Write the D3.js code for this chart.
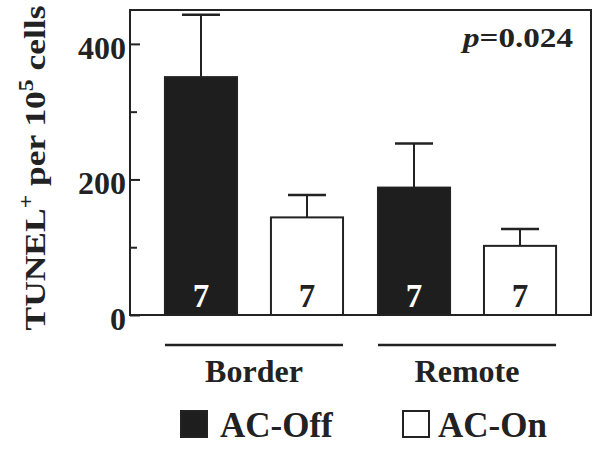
<!DOCTYPE html>
<html>
<head>
<meta charset="utf-8">
<script src="https://cdn.jsdelivr.net/npm/d3@7"></script>
<style>
body { margin: 0; background: #fff; }
svg text { font-family: "Liberation Serif", "DejaVu Serif", serif; font-weight: bold; fill: #222; }
</style>
</head>
<body>
<script>
var regions = ["Border", "Remote"];
var groups = ["AC-Off", "AC-On"];
var meanOff = [351, 188];
var meanOn = [144, 102];
var semOff = [92, 65];
var semOn = [33, 25];
var nOff = [7, 7];
var nOn = [7, 7];
var yTicks = [0, 100, 200, 300, 400];
var yLabels = [0, 200, 400];
var pText = "0.024";

var rows = [];
for (var i = 0; i < regions.length; i++) {
	rows.push({region: regions[i], group: "AC-Off", mean: meanOff[i], sem: semOff[i], n: nOff[i]});
	rows.push({region: regions[i], group: "AC-On", mean: meanOn[i], sem: semOn[i], n: nOn[i]});
}

var width = 600,
	height = 454;
var plotLeft = 130, plotRight = 591, plotTop = 10, plotBottom = 315;
var ink = "#222";
var serif = "'Liberation Serif', 'DejaVu Serif', serif";

var svg = d3.select("body").append("svg")
	.attr("width", width)
	.attr("height", height)
	.attr("font-family", serif);

var y = d3.scaleLinear()
	.domain([0, 450])
	.range([plotBottom, plotTop]);

var x0 = d3.scaleBand()
	.domain(regions)
	.range([plotLeft, plotRight])
	.paddingInner(0.164)
	.paddingOuter(0.164);

var x1 = d3.scaleBand()
	.domain(groups)
	.range([0, x0.bandwidth()])
	.paddingInner(0.32);

var fill = d3.scaleOrdinal()
	.domain(groups)
	.range(["#1e1e1e", "#ffffff"]);

// bars
svg.selectAll("rect.bar")
	.data(rows)
	.enter().append("rect")
		.classed("bar", true)
		.attr("x", function(d) { return x0(d.region) + x1(d.group); })
		.attr("y", function(d) { return y(d.mean); })
		.attr("width", x1.bandwidth())
		.attr("height", function(d) { return y(0) - y(d.mean); })
		.attr("fill", function(d) { return fill(d.group); })
		.attr("stroke", ink)
		.attr("stroke-width", 2);

// error bars (upper only)
var err = svg.selectAll("g.err")
	.data(rows)
	.enter().append("g")
		.classed("err", true)
		.attr("transform", function(d) { return "translate(" + (x0(d.region) + x1(d.group) + x1.bandwidth() / 2) + ",0)"; });

err.append("line")
	.attr("x1", 0).attr("x2", 0)
	.attr("y1", function(d) { return y(d.mean); })
	.attr("y2", function(d) { return y(d.mean + d.sem); })
	.attr("stroke", ink)
	.attr("stroke-width", 2);

err.append("line")
	.attr("x1", -19).attr("x2", 19)
	.attr("y1", function(d) { return y(d.mean + d.sem); })
	.attr("y2", function(d) { return y(d.mean + d.sem); })
	.attr("stroke", ink)
	.attr("stroke-width", 2.5);

// n inside bars
svg.selectAll("text.n")
	.data(rows)
	.enter().append("text")
		.classed("n", true)
		.attr("x", function(d) { return x0(d.region) + x1(d.group) + x1.bandwidth() / 2; })
		.attr("y", plotBottom - 8)
		.attr("text-anchor", "middle")
		.style("font-size", "33px")
		.style("fill", function(d) { return d.group == "AC-Off" ? "#fff" : ink; })
		.text(function(d) { return d.n; });

// frame
svg.append("rect")
	.attr("x", plotLeft)
	.attr("y", plotTop)
	.attr("width", plotRight - plotLeft)
	.attr("height", plotBottom - plotTop)
	.attr("fill", "none")
	.attr("stroke", ink)
	.attr("stroke-width", 2);

// y axis, ticks pointing inward
var yAxis = d3.axisLeft(y)
	.tickValues(yTicks)
	.tickSize(-10)
	.tickPadding(4)
	.tickFormat(function(d) { return yLabels.indexOf(d) >= 0 ? d : ""; });

var gy = svg.append("g")
	.attr("transform", "translate(" + plotLeft + ",0)")
	.call(yAxis)
	.attr("font-family", serif);
gy.select(".domain").remove();
gy.selectAll(".tick line")
	.attr("x2", function(d) { return yLabels.indexOf(d) >= 0 ? 10 : 7; })
	.attr("stroke", ink)
	.attr("stroke-width", 2);
gy.selectAll(".tick text")
	.attr("dy", "0.45em")
	.style("font-size", "32px");

// y title
var title = svg.append("text")
	.attr("transform", "rotate(-90)")
	.attr("x", -168)
	.attr("y", 45)
	.attr("text-anchor", "middle")
	.attr("textLength", 325)
	.attr("lengthAdjust", "spacingAndGlyphs")
	.style("font-size", "30px");
title.append("tspan").text("TUNEL");
title.append("tspan").attr("dy", -12).style("font-size", "20px").text("+");
title.append("tspan").attr("dy", 12).text(" per 10");
title.append("tspan").attr("dy", -12).style("font-size", "20px").text("5");
title.append("tspan").attr("dy", 12).text(" cells");

// p value
var pv = svg.append("text")
	.attr("x", 573)
	.attr("y", 47)
	.attr("text-anchor", "end")
	.attr("textLength", 110)
	.attr("lengthAdjust", "spacingAndGlyphs")
	.style("font-size", "27px");
pv.append("tspan").style("font-style", "italic").text("p");
pv.append("tspan").text("=" + pText);

// region brackets and labels
svg.selectAll("line.region")
	.data(regions)
	.enter().append("line")
		.classed("region", true)
		.attr("x1", function(d) { return x0(d); })
		.attr("x2", function(d) { return x0(d) + x0.bandwidth(); })
		.attr("y1", 345).attr("y2", 345)
		.attr("stroke", ink)
		.attr("stroke-width", 2.5);

svg.selectAll("text.region")
	.data(regions)
	.enter().append("text")
		.classed("region", true)
		.attr("x", function(d) { return x0(d) + x0.bandwidth() / 2; })
		.attr("y", 382)
		.attr("text-anchor", "middle")
		.style("font-size", "32px")
		.text(function(d) { return d; });

// legend
var legX = [180, 402];
var leg = svg.selectAll("g.leg")
	.data(groups)
	.enter().append("g")
		.classed("leg", true)
		.attr("transform", function(d, i) { return "translate(" + legX[i] + ",410)"; });

leg.append("rect")
	.attr("x", 1).attr("y", 1)
	.attr("width", 26).attr("height", 26)
	.attr("fill", function(d) { return fill(d); })
	.attr("stroke", ink)
	.attr("stroke-width", 2);

leg.append("text")
	.attr("x", function(d, i) { return i == 0 ? 40 : 36; })
	.attr("y", 27)
	.style("font-size", "35px")
	.text(function(d) { return d; });
</script>
</body>
</html>
